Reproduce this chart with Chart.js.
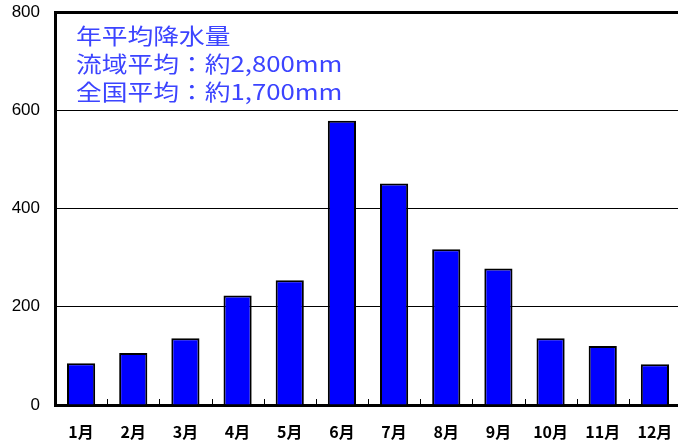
<!DOCTYPE html>
<html>
<head>
<meta charset="utf-8">
<script src="https://cdn.jsdelivr.net/npm/chart.js@4/dist/chart.umd.min.js"></script>
<style>
  html, body { margin: 0; padding: 0; background: #fff; overflow: hidden; }
  #wrap { position: relative; width: 682px; height: 443px; overflow: hidden; }
  #chart { display: block; margin-top: -13px; }
  #note {
    position: absolute; left: 76px; top: 20px;
    font-family: "Noto Sans CJK JP", sans-serif; font-size: 22px; line-height: 28px;
    color: #3c44ff; transform: scaleX(1.17); transform-origin: left top; white-space: nowrap;
  }
</style>
</head>
<body>
<div id="wrap">
  <canvas id="chart" width="682" height="456"></canvas>
  <div id="note">年平均降水量<br>流域平均：約2,800mm<br>全国平均：約1,700mm</div>
</div>
<script>
const months = ['1月','2月','3月','4月','5月','6月','7月','8月','9月','10月','11月','12月'];
const rainfall = [85, 106, 136, 223, 254, 579, 451, 317, 278, 136, 120, 83];
const yTicks = [0, 200, 400, 600, 800];

// small tick marks between categories, pointing up from the axis
const innerTicks = {
  id: 'innerTicks',
  afterDatasetsDraw(chart) {
    const { ctx, scales: { x, y } } = chart;
    const base = y.getPixelForValue(0);
    ctx.save();
    ctx.strokeStyle = '#000';
    ctx.lineWidth = 1;
    for (let i = 0; i <= months.length; i++) {
      const px = Math.round(x.getPixelForValue(i - 0.5)) + 0.5;
      ctx.beginPath();
      ctx.moveTo(px, base);
      ctx.lineTo(px, base - 6);
      ctx.stroke();
    }
    ctx.restore();
  }
};

new Chart(document.getElementById('chart'), {
  type: 'bar',
  data: {
    labels: months,
    datasets: [{
      data: rainfall,
      backgroundColor: '#0000ff',
      borderColor: '#000',
      borderWidth: 2,
      categoryPercentage: 1,
      barPercentage: 0.54
    }]
  },
  options: {
    responsive: false,
    animation: false,
    devicePixelRatio: 1,
    layout: { padding: { top: 0, right: 1, left: 0, bottom: 0 } },
    plugins: { legend: { display: false }, tooltip: { enabled: false } },
    scales: {
      x: {
        grid: { display: false },
        border: { color: '#000', width: 3 },
        ticks: {
          color: '#000', padding: 9,
          font: { family: '"Noto Sans CJK JP", sans-serif', size: 16, weight: 'bold' }
        },
        afterFit(s) { s.height = 38; }
      },
      y: {
        min: 0, max: 800,
        afterBuildTicks(s) { s.ticks = yTicks.map(v => ({ value: v })); },
        grid: {
          color: '#000',
          lineWidth: c => (c.tick && c.tick.value === 800 ? 3 : 1),
          drawTicks: false
        },
        border: { color: '#000', width: 3 },
        ticks: {
          color: '#000', padding: 15,
          font: { family: '"Liberation Sans", Arial, sans-serif', size: 17 }
        },
        afterFit(s) { s.width = 55; }
      }
    }
  },
  plugins: [innerTicks]
});
</script>
</body>
</html>
